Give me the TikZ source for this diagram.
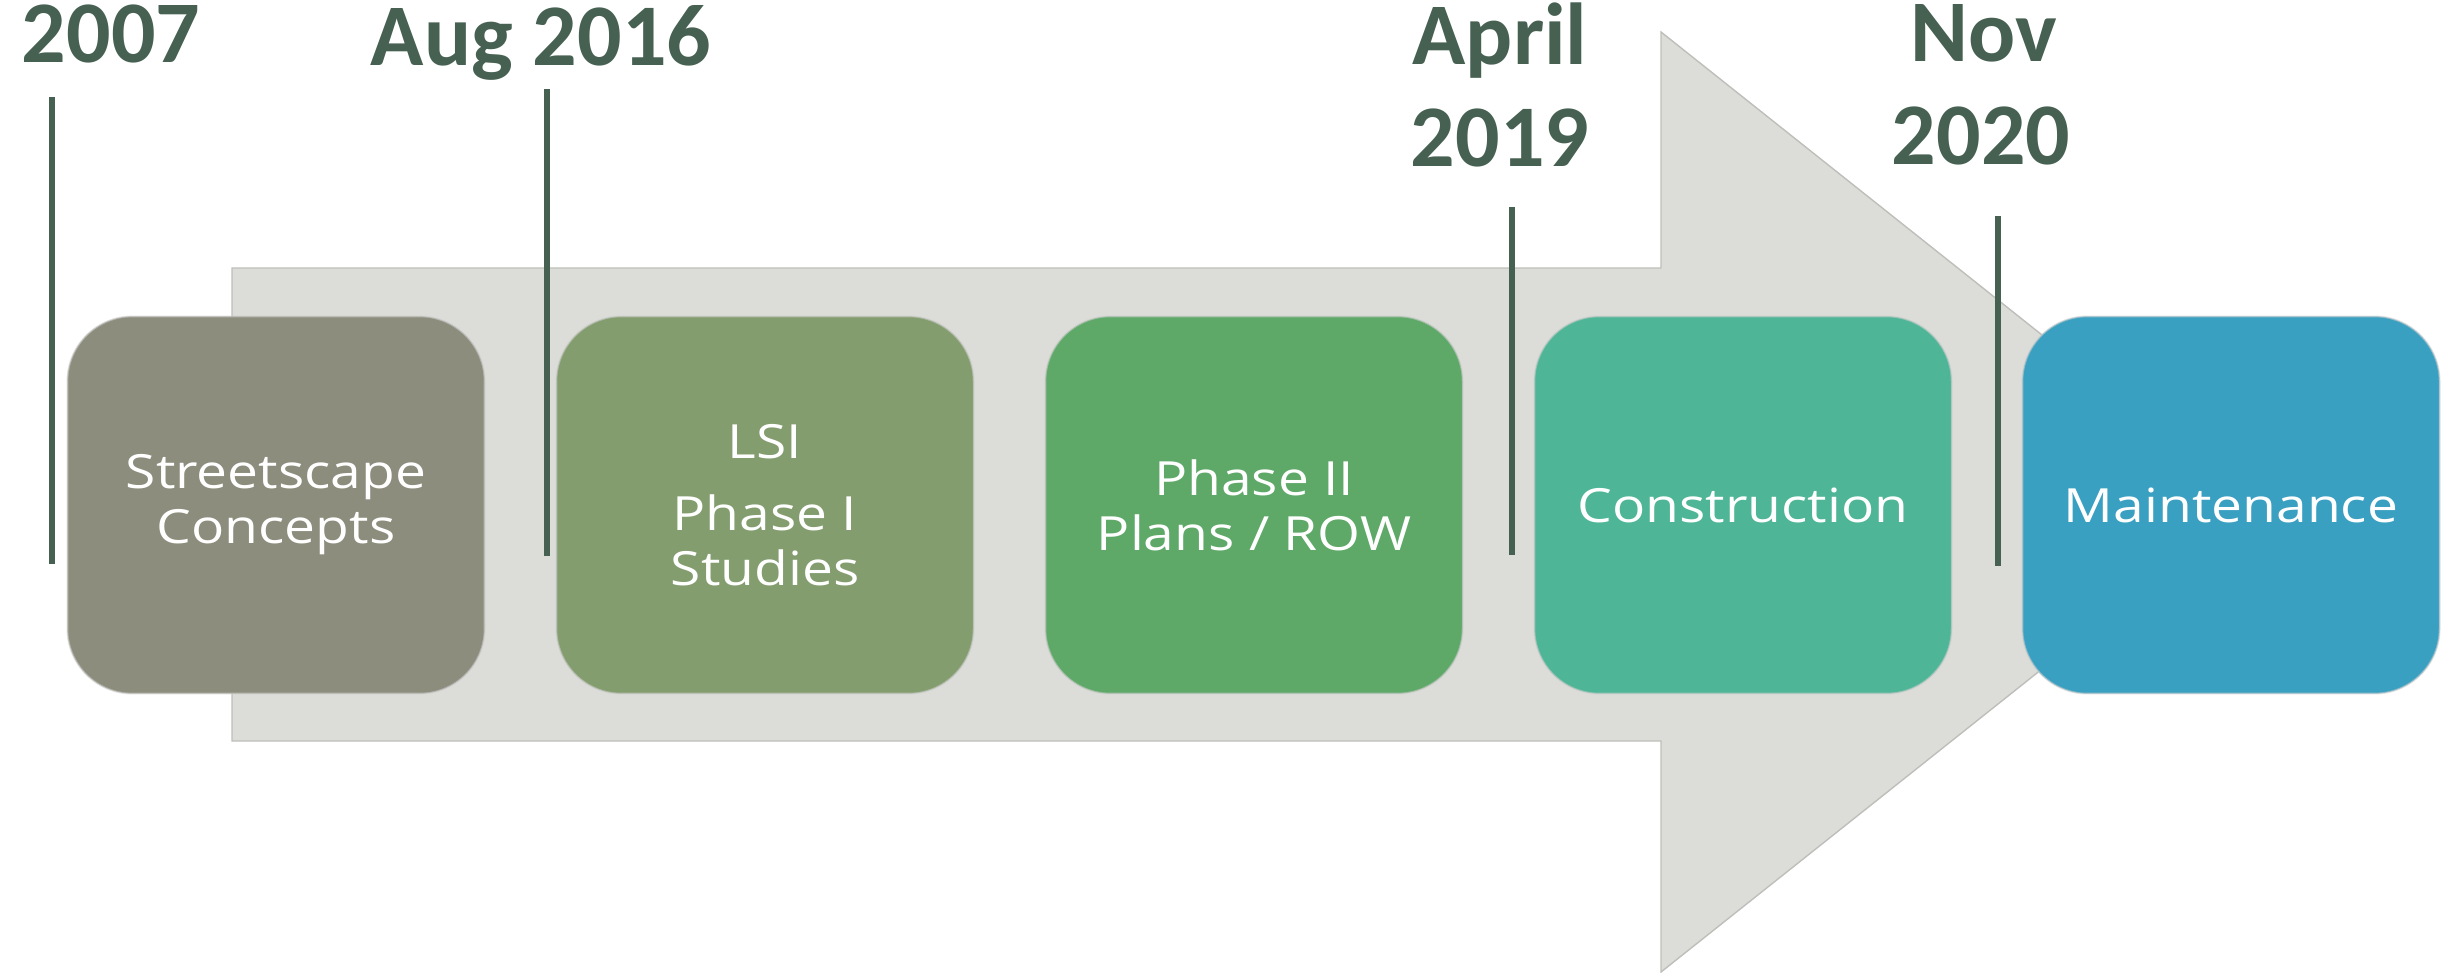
\documentclass[tikz,border=0pt]{standalone}
\usepackage{fontspec}
\setmainfont{Open Sans}
\newfontfamily\boxfont[FakeStretch=1.17]{Open Sans}
\newfontfamily\datefont{Carlito}
\definecolor{arrowgray}{HTML}{DCDDD8}
\definecolor{arrowedge}{HTML}{BEBEBA}
\definecolor{dategreen}{HTML}{466052}
\definecolor{cA}{HTML}{8D8D7D}
\definecolor{cB}{HTML}{839D6F}
\definecolor{cC}{HTML}{5EA868}
\definecolor{cD}{HTML}{4EB596}
\definecolor{cE}{HTML}{3AA0C2}
\tikzset{
  arrowshape/.style={fill=arrowgray, draw=arrowedge, line width=0.4pt},
  phasebox/.style={rectangle, rounded corners=0.65cm, minimum width=4.17cm,
    minimum height=3.77cm, inner sep=0pt, draw=white!80!black, draw opacity=0.6,
    line width=0.5pt, text=white, align=center,
    font=\boxfont\fontsize{13.4pt}{15.65pt}\selectfont},
  datelabel/.style={anchor=base, text=dategreen, inner sep=0pt,
    font=\datefont\bfseries\fontsize{25pt}{29pt}\selectfont},
  tickline/.style={draw=dategreen, line width=0.06cm}
}
\begin{document}
\begin{tikzpicture}[x=0.01cm, y=-0.01cm]
\useasboundingbox (0,0) rectangle (2458,973);
% big arrow
\draw[arrowshape] (232,268) -- (1661,268) -- (1661,32) -- (2252,502)
  -- (1661,972) -- (1661,741) -- (232,741) -- cycle;
% date labels
\node[datelabel] (d2007) at (111,63) {2007};
\node[datelabel] (d2016) at (541,66) {Aug 2016};
\node[datelabel] (dapr) at (1500,65) {April};
\node[datelabel] (d2019) at (1500,167) {2019};
\node[datelabel] (dnov) at (1984,62) {Nov};
\node[datelabel] (d2020) at (1981,165) {2020};
% tick lines
\coordinate (t1a) at (52,97);   \coordinate (t1b) at (52,564);
\coordinate (t2a) at (547,89);  \coordinate (t2b) at (547,556);
\coordinate (t3a) at (1512,207); \coordinate (t3b) at (1512,555);
\coordinate (t4a) at (1998,216); \coordinate (t4b) at (1998,566);
\draw[tickline] (t1a) -- (t1b);
\draw[tickline] (t2a) -- (t2b);
\draw[tickline] (t3a) -- (t3b);
\draw[tickline] (t4a) -- (t4b);
% phase boxes
\node[phasebox, fill=cA] (b1) at (276,505) {Streetscape\\Concepts};
\node[phasebox, fill=cB] (b2) at (765,505) {LSI\\[5pt]Phase I\\Studies};
\node[phasebox, fill=cC] (b3) at (1254,505) {Phase II\\Plans / ROW};
\node[phasebox, fill=cD] (b4) at (1743,505) {Construction};
\node[phasebox, fill=cE] (b5) at (2231,505) {Maintenance};
\end{tikzpicture}
\end{document}
